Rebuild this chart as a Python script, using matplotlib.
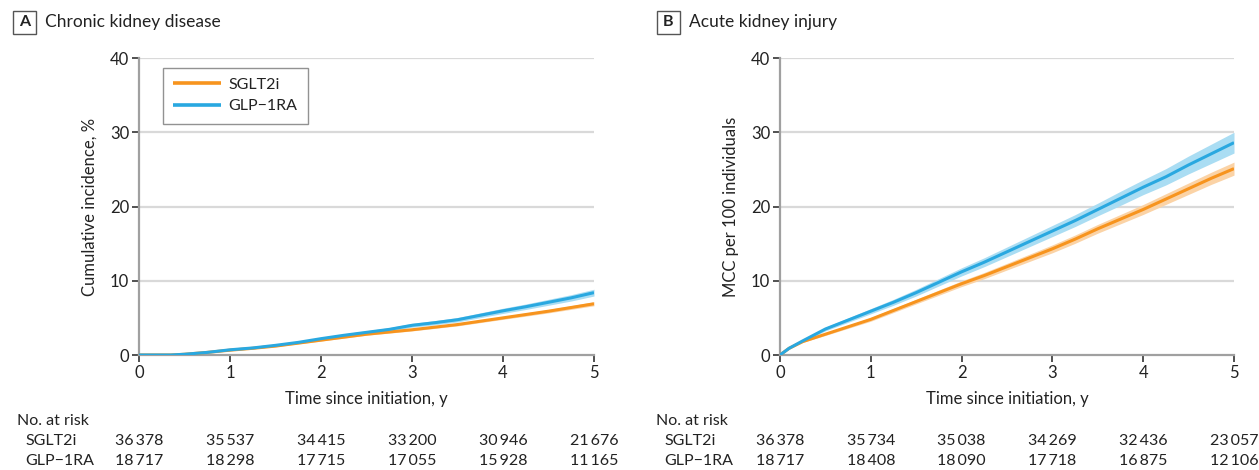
import matplotlib
matplotlib.use("Agg")
import matplotlib.pyplot as plt
import matplotlib.transforms as mtransforms
from matplotlib.patches import Rectangle

plt.rcParams['font.family'] = ['Lato', 'DejaVu Sans']

# ---------------- data ----------------
xticks = [0, 1, 2, 3, 4, 5]
groups = ["SGLT2i", "GLP\u22121RA"]

# Panel A: chronic kidney disease, cumulative incidence (%)
tA = [0, 0.35, 0.5, 0.75, 1, 1.25, 1.5, 1.75, 2, 2.25, 2.5, 2.75, 3, 3.25, 3.5, 3.75, 4, 4.25, 4.5, 4.75, 5]
sgltA = [0, 0, 0.1, 0.35, 0.65, 0.9, 1.2, 1.6, 2.0, 2.4, 2.8, 3.1, 3.4, 3.75, 4.1, 4.55, 5.0, 5.45, 5.9, 6.4, 6.9]
sgltA_lo = [0, 0, 0.08, 0.3, 0.58, 0.82, 1.1, 1.5, 1.88, 2.27, 2.66, 2.95, 3.24, 3.58, 3.92, 4.36, 4.8, 5.23, 5.67, 6.15, 6.63]
sgltA_hi = [0, 0, 0.12, 0.4, 0.72, 0.98, 1.3, 1.7, 2.12, 2.53, 2.94, 3.25, 3.56, 3.92, 4.28, 4.74, 5.2, 5.67, 6.13, 6.65, 7.17]
glpA = [0, 0, 0.1, 0.35, 0.7, 0.95, 1.3, 1.7, 2.2, 2.65, 3.05, 3.45, 4.0, 4.35, 4.75, 5.35, 5.95, 6.5, 7.1, 7.7, 8.4]
glpA_lo = [0, 0, 0.07, 0.28, 0.6, 0.83, 1.16, 1.54, 2.02, 2.45, 2.83, 3.21, 3.74, 4.07, 4.45, 5.03, 5.6, 6.13, 6.7, 7.27, 7.94]
glpA_hi = [0, 0, 0.13, 0.42, 0.8, 1.07, 1.44, 1.86, 2.38, 2.85, 3.27, 3.69, 4.26, 4.63, 5.05, 5.67, 6.3, 6.87, 7.5, 8.13, 8.86]
riskA = {"SGLT2i": [36378, 35537, 34415, 33200, 30946, 21676],
         "GLP\u22121RA": [18717, 18298, 17715, 17055, 15928, 11165]}

# Panel B: acute kidney injury, MCC per 100 individuals
tB = [0, 0.1, 0.25, 0.5, 0.75, 1, 1.25, 1.5, 1.75, 2, 2.25, 2.5, 2.75, 3, 3.25, 3.5, 3.75, 4, 4.25, 4.5, 4.75, 5]
sgltB = [0, 0.9, 1.8, 2.8, 3.8, 4.8, 6.0, 7.2, 8.4, 9.6, 10.7, 11.9, 13.1, 14.3, 15.6, 17.0, 18.3, 19.6, 21.0, 22.4, 23.8, 25.1]
sgltB_lo = [0, 0.83, 1.7, 2.63, 3.59, 4.55, 5.72, 6.89, 8.05, 9.22, 10.28, 11.45, 12.61, 13.77, 15.04, 16.41, 17.67, 18.93, 20.28, 21.63, 22.98, 24.22]
sgltB_hi = [0, 0.97, 1.9, 2.97, 4.01, 5.05, 6.28, 7.51, 8.75, 9.98, 11.12, 12.35, 13.59, 14.83, 16.16, 17.59, 18.93, 20.27, 21.72, 23.17, 24.62, 25.98]
glpB = [0, 0.9, 1.9, 3.5, 4.7, 5.9, 7.1, 8.4, 9.8, 11.2, 12.5, 13.9, 15.3, 16.7, 18.1, 19.6, 21.1, 22.6, 24.0, 25.6, 27.1, 28.6]
glpB_lo = [0, 0.8, 1.75, 3.25, 4.4, 5.55, 6.7, 7.95, 9.3, 10.65, 11.9, 13.25, 14.6, 15.95, 17.3, 18.75, 20.15, 21.6, 22.9, 24.4, 25.8, 27.2]
glpB_hi = [0, 1.0, 2.05, 3.75, 5.0, 6.25, 7.5, 8.85, 10.3, 11.75, 13.1, 14.55, 16.0, 17.45, 18.9, 20.45, 22.05, 23.6, 25.1, 26.8, 28.4, 30.0]
riskB = {"SGLT2i": [36378, 35734, 35038, 34269, 32436, 23057],
         "GLP\u22121RA": [18717, 18408, 18090, 17718, 16875, 12106]}

# ---------------- style ----------------
ORANGE = "#F7941E"
BLUE = "#29A8E0"
ORANGE_BAND = "#FBD3A6"
BLUE_BAND = "#AADDF3"
GRID = "#D9D9D9"
SPINE = "#A0A0A0"
TXT = "#222222"
FS = 11.5

W, H = 1259, 470
fig = plt.figure(figsize=(W / 100, H / 100), dpi=100)

def px_ax(l, r, b, t):
    return [l / W, 1 - b / H, (r - l) / W, (b - t) / H]

def fmt(n):
    s = str(n)
    return s[:-3] + "\u2009" + s[-3:]

def panel(rect, letter, title, box_x, ylabel, t, s, s_lo, s_hi, g, g_lo, g_hi, risk, risk_x, legend):
    ax = fig.add_axes(rect)
    ax.set_xlim(0, 5)
    ax.set_ylim(0, 40)
    ax.set_yticks([0, 10, 20, 30, 40])
    ax.set_xticks(xticks)
    for y in [10, 20, 30, 40]:
        ax.axhline(y, color=GRID, lw=1.6, zorder=0)
    for sp in ["top", "right"]:
        ax.spines[sp].set_visible(False)
    for sp in ["left", "bottom"]:
        ax.spines[sp].set_color(SPINE)
        ax.spines[sp].set_linewidth(1.6)
    ax.tick_params(axis="both", direction="out", length=5, width=1.1, color=TXT,
                   labelsize=FS + 0.5, labelcolor=TXT, pad=2)
    ax.fill_between(t, s_lo, s_hi, color=ORANGE_BAND, lw=0, zorder=1)
    ax.fill_between(t, g_lo, g_hi, color=BLUE_BAND, lw=0, zorder=1)
    ax.plot(t, s, color=ORANGE, lw=2.2, label=groups[0], zorder=3, solid_capstyle="butt")
    ax.plot(t, g, color=BLUE, lw=2.2, label=groups[1], zorder=4, solid_capstyle="butt")
    ax.set_ylabel(ylabel, fontsize=FS + 0.5, color=TXT)
    ax.yaxis.set_label_coords(-0.09, 0.5)
    ax.set_xlabel("Time since initiation, y", fontsize=FS + 0.5, color=TXT)
    ax.xaxis.set_label_coords(0.5, -0.122)
    if legend:
        leg = ax.legend(loc="upper left", bbox_to_anchor=(0.052, 0.968), frameon=True,
                        fancybox=False, edgecolor="#777777", fontsize=FS,
                        handlelength=3.0, handletextpad=0.45, borderpad=0.65,
                        labelspacing=0.45, borderaxespad=0)
        leg.get_frame().set_linewidth(1.0)
        for tx in leg.get_texts():
            tx.set_color(TXT)
        for ln in leg.get_lines():
            ln.set_linewidth(2.6)
    # panel header
    fig.patches.append(Rectangle((box_x / W, 1 - 34 / H), 23 / W, 23 / H,
                                 transform=fig.transFigure, fill=False,
                                 edgecolor="#555555", lw=1.0))
    fig.text((box_x + 11.5) / W, 1 - 22.5 / H, letter, ha="center", va="center",
             fontsize=FS, fontweight="bold", color=TXT)
    fig.text((box_x + 32) / W, 1 - 22 / H, title, ha="left", va="center",
             fontsize=FS + 1, color=TXT)
    # risk table
    tr = mtransforms.blended_transform_factory(ax.transData, fig.transFigure)
    fig.text(risk_x / W, 1 - 421 / H, "No. at risk", ha="left", va="center",
             fontsize=FS, color=TXT)
    for row_y, name in zip([441, 461], groups):
        fig.text((risk_x + 8) / W, 1 - row_y / H, name, ha="left", va="center",
                 fontsize=FS, color=TXT)
        for xv, n in zip(xticks, risk[name]):
            fig.text(xv, 1 - row_y / H, fmt(n), transform=tr, ha="center",
                     va="center", fontsize=FS, color=TXT)
    return ax

panel(px_ax(139, 594, 355, 58), "A", "Chronic kidney disease", 13,
      "Cumulative incidence, %", tA, sgltA, sgltA_lo, sgltA_hi,
      glpA, glpA_lo, glpA_hi, riskA, 17, True)
panel(px_ax(780, 1234, 355, 58), "B", "Acute kidney injury", 657,
      "MCC per 100 individuals", tB, sgltB, sgltB_lo, sgltB_hi,
      glpB, glpB_lo, glpB_hi, riskB, 656, False)

fig.savefig("out.png", dpi=100, facecolor="white")
